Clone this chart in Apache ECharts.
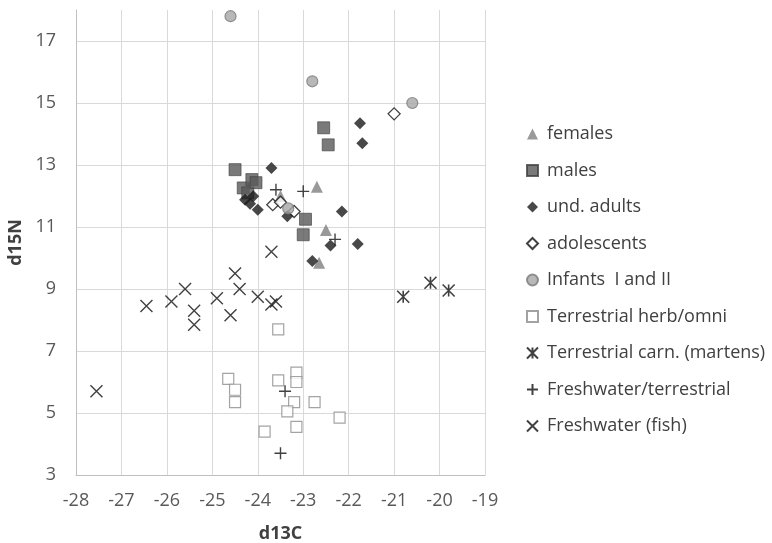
<!DOCTYPE html>
<html><head><meta charset="utf-8">
<script src="https://cdn.jsdelivr.net/npm/echarts@6/dist/echarts.min.js"></script>
<style>html,body{margin:0;padding:0;background:#fff}#c{width:772px;height:543px}</style>
</head><body><div id="c"></div>
<script>
const females = [[-22.7,12.3],[-22.5,10.9],[-22.65,9.85],[-23.5,12.0]];
const males = [[-22.55,14.2],[-22.45,13.65],[-24.5,12.85],[-24.32,12.26],[-24.13,12.53],[-24.22,12.1],[-24.04,12.43],[-22.95,11.25],[-23.0,10.75]];
const undAdults = [[-21.75,14.35],[-21.7,13.7],[-23.7,12.9],[-24.28,11.88],[-24.1,11.99],[-24.0,11.56],[-24.17,11.75],[-23.35,11.35],[-22.15,11.5],[-22.4,10.4],[-21.8,10.45],[-22.8,9.9]];
const adolescents = [[-21.0,14.65],[-23.67,11.72],[-23.5,11.8],[-23.2,11.5]];
const infants = [[-24.6,17.8],[-22.8,15.7],[-20.6,15.0],[-23.33,11.6]];
const herbOmni = [[-23.55,7.7],[-24.65,6.1],[-24.5,5.75],[-24.5,5.35],[-23.55,6.05],[-23.15,6.3],[-23.15,6.0],[-23.2,5.35],[-22.75,5.35],[-23.35,5.05],[-22.2,4.85],[-23.15,4.55],[-23.85,4.4]];
const martens = [[-20.8,8.75],[-20.2,9.2],[-19.8,8.95]];
const fwTerr = [[-23.0,12.15],[-23.6,12.2],[-22.3,10.6],[-23.4,5.7],[-23.5,3.7]];
const fish = [[-23.7,10.2],[-24.5,9.5],[-24.4,9.0],[-25.6,9.0],[-24.0,8.75],[-24.9,8.7],[-25.9,8.6],[-26.45,8.45],[-23.7,8.5],[-23.6,8.6],[-25.4,8.3],[-25.4,7.85],[-24.6,8.15],[-27.55,5.7]];

const names = ['females','males','und. adults','adolescents','Infants  I and II','Terrestrial herb/omni','Terrestrial carn. (martens)','Freshwater/terrestrial','Freshwater (fish)'];

const P_X = 'path://M0,0L10,10M10,0L0,10';
const P_PLUS = 'path://M5,0L5,10M0,5L10,5';
const P_AST = 'path://M0,0L10,10M10,0L0,10M5,0L5,10';

const styles = [
  {data: females, symbol:'triangle', size:12, item:{color:'#808080'}},
  {data: males, symbol:'rect', size:12, item:{color:'#595959', borderColor:'#404040', borderWidth:0.8}},
  {data: undAdults, symbol:'diamond', size:12, item:{color:'#1a1a1a'}},
  {data: adolescents, symbol:'diamond', size:12, item:{color:'#ffffff', borderColor:'#111', borderWidth:1.3}},
  {data: infants, symbol:'circle', size:11, item:{color:'#a6a6a6', borderColor:'#7a7a7a', borderWidth:1.2}},
  {data: herbOmni, symbol:'rect', size:11, item:{color:'#ffffff', borderColor:'#8c8c8c', borderWidth:1.2}},
  {data: martens, symbol:P_AST, size:12, item:{color:'transparent', borderColor:'#111', borderWidth:1.6}},
  {data: fwTerr, symbol:P_PLUS, size:12, item:{color:'transparent', borderColor:'#111', borderWidth:1.4}},
  {data: fish, symbol:P_X, size:12, item:{color:'transparent', borderColor:'#111', borderWidth:1.4}}
];

const series = styles.map((s,i)=>({
  name: names[i], type:'scatter', data: s.data, symbol: s.symbol, symbolSize: s.size,
  itemStyle: s.item, emphasis:{disabled:true}, z: 2+i
}));

const chart = echarts.init(document.getElementById('c'), null, {renderer:'canvas'});
chart.setOption({
  animation:false,
  backgroundColor:'#ffffff',
  textStyle:{fontFamily:'"Open Sans", "Noto Sans", sans-serif'},
  grid:{left:76, right:287, top:10, bottom:68, outerBoundsMode:'none', containLabel:false},
  xAxis:{type:'value', min:-28, max:-19, interval:1,
    name:'d13C', nameLocation:'middle', nameGap:50,
    nameTextStyle:{fontSize:18, fontWeight:'bold', color:'#404040'},
    axisLine:{show:true, onZero:false, lineStyle:{color:'#bfbfbf', width:1}},
    axisTick:{show:false},
    axisLabel:{fontSize:18, color:'#595959', margin:17},
    splitLine:{show:true, lineStyle:{color:'#d9d9d9', width:1}}},
  yAxis:{type:'value', min:3, max:18, interval:2,
    name:'d15N', nameLocation:'middle', nameGap:49, nameRotate:90,
    nameTextStyle:{fontSize:18, fontWeight:'bold', color:'#404040'},
    axisLine:{show:true, onZero:false, lineStyle:{color:'#bfbfbf', width:1}},
    axisTick:{show:false},
    axisLabel:{fontSize:18, color:'#595959', margin:20, showMaxLabel:false,
      formatter: v => (v===18 ? '' : String(v))},
    splitLine:{show:true, showMaxLine:false, lineStyle:{color:'#d9d9d9', width:1}}},
  legend:{orient:'vertical', left:521, top:119, itemWidth:11, itemHeight:11, itemGap:16.5,
    textStyle:{fontSize:18, color:'#404040', lineHeight:20, padding:[0,0,0,4]},
    data: names},
  series: series
});
</script>
</body></html>
